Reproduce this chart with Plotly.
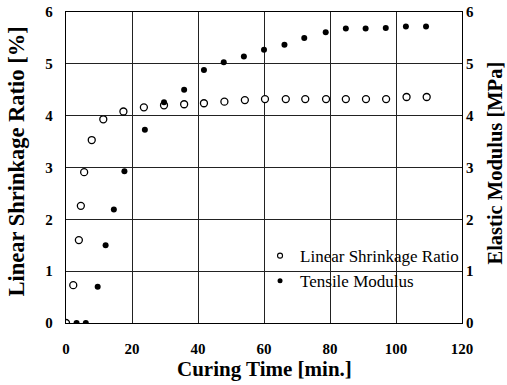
import plotly.graph_objects as go

# Linear shrinkage ratio (open circles)
shrink_time = [0, 2.2, 3.9, 4.5, 5.5, 7.8, 11.3, 17.4, 23.6, 29.7, 35.8, 41.8, 48.0, 54.2, 60.3, 66.6, 72.5, 78.8, 84.8, 90.9, 97.0, 103.2, 109.3]
shrink_val = [0.0, 0.73, 1.60, 2.26, 2.91, 3.53, 3.93, 4.08, 4.16, 4.20, 4.22, 4.24, 4.27, 4.30, 4.32, 4.32, 4.32, 4.32, 4.32, 4.32, 4.32, 4.36, 4.36]

# Tensile modulus (filled circles)
mod_time = [3.2, 6.0, 9.6, 12.0, 14.5, 17.7, 23.9, 29.7, 35.8, 41.8, 47.8, 53.9, 60.0, 66.2, 72.2, 78.7, 84.8, 90.8, 96.9, 103.0, 109.1]
mod_val = [0.0, 0.0, 0.70, 1.50, 2.19, 2.93, 3.73, 4.26, 4.50, 4.88, 5.03, 5.14, 5.27, 5.37, 5.50, 5.61, 5.68, 5.68, 5.69, 5.72, 5.72]

x_ticks = [0, 20, 40, 60, 80, 100, 120]
y_ticks = [0, 1, 2, 3, 4, 5, 6]

FONT = "Liberation Serif"
TICKFONT = dict(family=FONT, size=15, color="black", weight="bold")
XTITLEFONT = dict(family=FONT, size=21, color="black", weight="bold")
YTITLEFONT = dict(family=FONT, size=22.5, color="black", weight="bold")
Y2TITLEFONT = dict(family=FONT, size=20.5, color="black", weight="bold")

fig = go.Figure()
fig.add_trace(go.Scatter(
    x=mod_time, y=mod_val, mode="markers", name="Tensile Modulus", showlegend=False,
    marker=dict(symbol="circle", size=6, color="black"), yaxis="y2"))
fig.add_trace(go.Scatter(
    x=shrink_time, y=shrink_val, mode="markers", name="Linear Shrinkage Ratio", showlegend=False,
    marker=dict(symbol="circle", size=7, color="white", line=dict(color="black", width=1.3))))
# legend entries (smaller symbols, as in the original key)
fig.add_trace(go.Scatter(
    x=[None], y=[None], mode="markers", name="Linear Shrinkage Ratio",
    marker=dict(symbol="circle", size=5, color="white", line=dict(color="black", width=1.1))))
fig.add_trace(go.Scatter(
    x=[None], y=[None], mode="markers", name="Tensile Modulus",
    marker=dict(symbol="circle", size=5, color="black")))

fig.update_layout(
    width=507, height=385,
    margin=dict(l=66, r=45, t=12, b=62, autoexpand=False),
    paper_bgcolor="white", plot_bgcolor="white",
    font=dict(family=FONT, color="black"),
    showlegend=True,
    legend=dict(x=0.49, y=0.273, xanchor="left", yanchor="top",
                bgcolor="rgba(0,0,0,0)",
                font=dict(family=FONT, size=17, color="black"),
                itemwidth=30, tracegroupgap=0),
    xaxis=dict(range=[0, 120], tickvals=x_ticks, mirror=True, showgrid=True,
               showline=True, linecolor="black", linewidth=1.4, ticks="",
               zeroline=False, automargin=False, tickfont=TICKFONT,
               ticklabelstandoff=12, gridcolor="#222", gridwidth=1),
    yaxis=dict(range=[0, 6], tickvals=y_ticks, mirror=True, showgrid=True,
               showline=True, linecolor="black", linewidth=1.4, ticks="",
               zeroline=False, automargin=False, tickfont=TICKFONT,
               ticklabelstandoff=9, gridcolor="#222", gridwidth=1),
    yaxis2=dict(range=[0, 6], tickvals=y_ticks, overlaying="y", side="right",
                showgrid=False, showline=False, ticks="", zeroline=False,
                automargin=False, tickfont=TICKFONT, ticklabelstandoff=3),
    annotations=[
        dict(text="Curing Time [min.]", xref="paper", yref="paper", x=0.5, y=0,
             xanchor="center", yanchor="middle", yshift=-46, showarrow=False,
             font=XTITLEFONT),
        dict(text="Linear Shrinkage Ratio [%]", xref="paper", yref="paper", x=0, y=0.5,
             xanchor="center", yanchor="middle", xshift=-50, yshift=6, textangle=-90,
             showarrow=False, font=YTITLEFONT),
        dict(text="Elastic Modulus [MPa]", xref="paper", yref="paper", x=1, y=0.5,
             xanchor="center", yanchor="middle", xshift=32, yshift=4, textangle=-90,
             showarrow=False, font=Y2TITLEFONT),
    ],
)

fig.write_html("out.html", config={"displayModeBar": False},
               post_script="document.body.style.margin='0px';")
